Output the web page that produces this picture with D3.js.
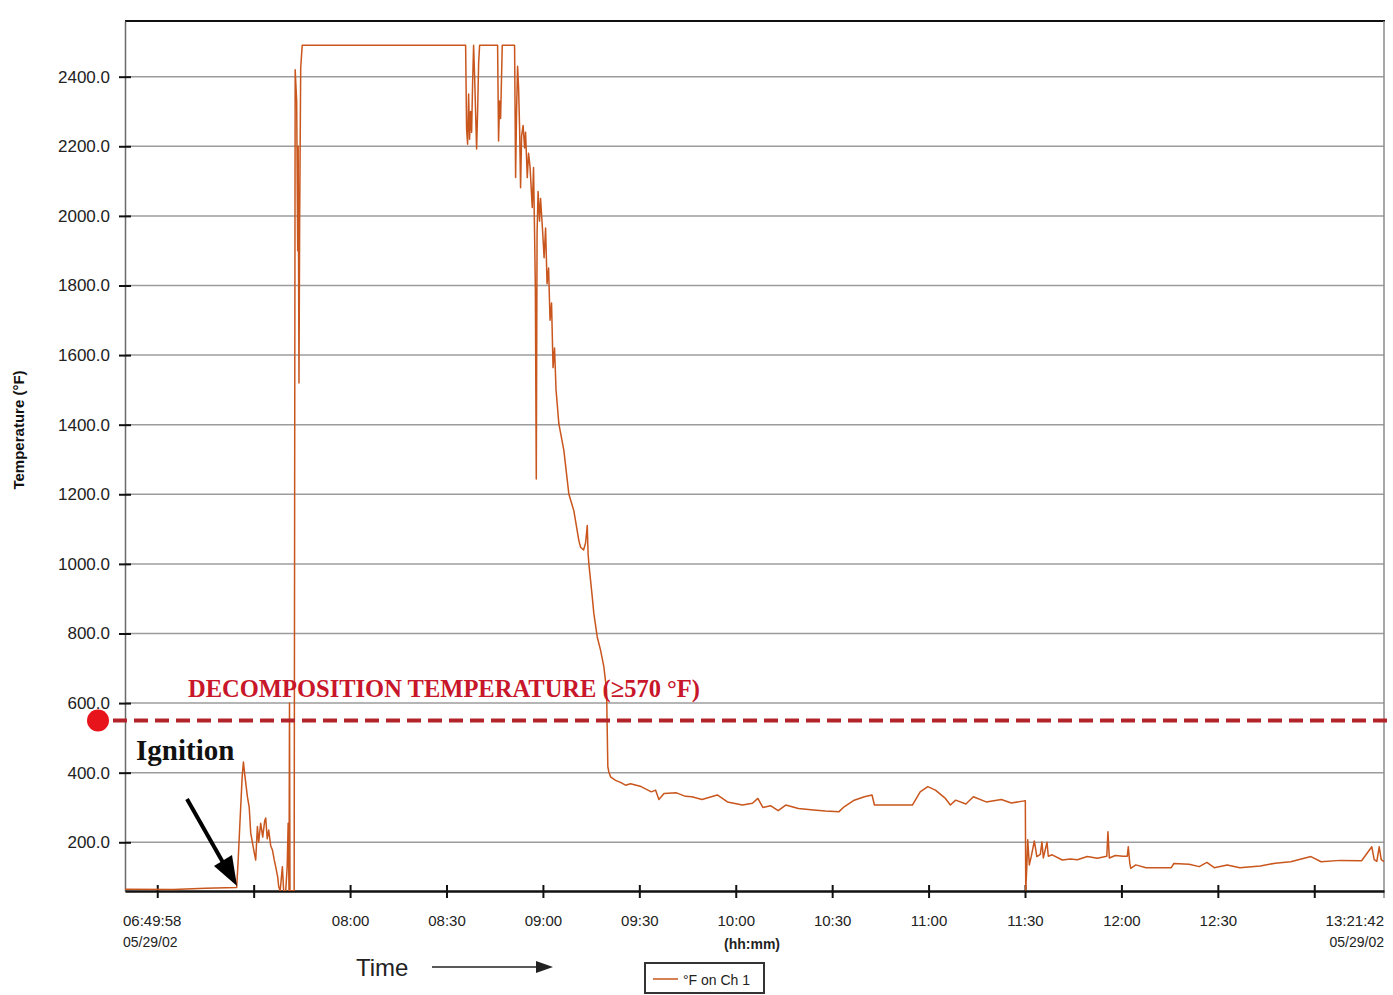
<!DOCTYPE html>
<html>
<head>
<meta charset="utf-8">
<script src="https://cdn.jsdelivr.net/npm/d3@7"></script>
<style>
body { margin: 0; background: #fff; }
text { font-family: "Liberation Sans", Arial, sans-serif; }
</style>
</head>
<body>
<div id="chart"></div>
<script>
// DATA (05/29/02)
const day = "2002-05-29";
const startTime = "06:49:58";
const endTime = "13:21:42";

const times = [
  "06:49:58","07:05:00","07:15:00","07:24:43","07:25:11","07:25:39","07:26:26","07:26:49","07:27:13","07:28:03",
  "07:28:37","07:29:05","07:30:01","07:30:38","07:31:10","07:31:34","07:32:11","07:32:49","07:33:26","07:33:45",
  "07:34:13","07:34:41","07:35:18","07:35:50","07:36:23","07:36:51","07:37:29","07:37:47","07:38:15","07:38:56",
  "07:39:20","07:39:58","07:40:26","07:40:44","07:41:00","07:41:09","07:41:18","07:42:36","07:42:55","07:43:23",
  "07:43:42","07:43:51","07:44:06","07:44:19","07:44:38","07:45:06",
  "08:35:57","08:36:15","08:36:34","08:36:53","08:37:11","08:37:30","08:37:49","08:38:07","08:38:26","08:38:45",
  "08:39:22","08:39:41","08:40:00","08:40:18","08:45:54","08:46:12","08:46:31","08:46:50","08:47:21","08:51:11",
  "08:51:30","08:51:48","08:52:07","08:52:26","08:52:45","08:53:03","08:53:22","08:53:50","08:54:18","08:54:36",
  "08:55:08","08:55:32","08:56:00","08:56:41","08:57:05","08:57:24","08:57:39","08:57:56","08:58:11","08:58:30",
  "08:58:57","08:59:16","08:59:54","09:00:22","09:00:50","09:01:17","09:01:46","09:02:13","09:02:41","09:03:09",
  "09:03:37","09:04:05","09:04:58","09:06:31","09:08:04","09:09:37","09:11:11","09:11:43","09:12:39","09:13:16",
  "09:13:48","09:14:03","09:14:18","09:15:21","09:15:51","09:16:54","09:17:56","09:18:58","09:19:48","09:20:12",
  "09:20:31","09:21:03","09:22:36","09:24:09","09:25:42","09:27:16","09:30:33","09:33:44","09:35:02","09:36:05",
  "09:37:41","09:41:34","09:44:22","09:46:21","09:49:30","09:52:08","09:54:15","09:57:25","10:02:05","10:05:12",
  "10:06:53","10:08:26","10:10:48","10:13:12","10:15:33","10:19:30","10:24:10","10:27:54","10:32:08","10:33:43",
  "10:36:52","10:40:02","10:42:24","10:43:09","10:49:29","10:54:58","10:57:23","10:59:45","11:02:07","11:05:14",
  "11:06:47","11:08:26","11:11:36","11:13:56","11:17:55","11:22:39","11:25:45","11:29:46","11:30:06","11:30:14",
  "11:30:34","11:30:51","11:31:21","11:31:58","11:32:54","11:33:41","11:34:46","11:35:16","11:35:42","11:36:51",
  "11:37:15","11:38:26","11:41:37","11:44:06","11:46:17","11:49:23","11:52:30","11:55:27","11:55:48","11:56:14",
  "11:58:06","12:00:31","12:01:50","12:02:08","12:02:36","12:02:55","12:04:28","12:07:39","12:15:31","12:16:19",
  "12:21:03","12:24:13","12:26:35","12:28:53","12:32:56","12:36:51","12:43:12","12:47:52","12:52:39","12:58:58",
  "13:02:07","13:08:05","13:14:44","13:17:54","13:18:39","13:19:28","13:20:13","13:20:50","13:21:42"
];
const temps = [
  65,64,68,70,150,241,390,431,395,331,
  300,227,178,149,245,200,255,215,262,270,
  210,235,190,178,150,130,100,73,60,130,
  60,60,130,255,60,600,60,60,2420,2330,
  1900,2200,1520,2000,2425,2490,
  2490,2250,2206,2350,2220,2300,2240,2380,2490,2400,
  2192,2300,2440,2490,2490,2215,2330,2280,2490,2490,
  2110,2300,2430,2368,2250,2081,2230,2260,2195,2240,
  2110,2180,2140,2024,2139,1950,1790,1244,1950,2070,
  1985,2050,1957,1880,1965,1805,1850,1700,1750,1564,
  1620,1500,1402,1326,1201,1153,1067,1048,1040,1060,
  1110,1030,1000,905,857,790,752,704,637,417,
  402,388,378,372,364,368,360,345,350,323,
  340,342,332,331,323,330,336,316,307,312,
  326,300,305,291,307,297,293,290,288,302,
  321,331,336,307,307,307,345,360,350,326,
  307,321,310,331,316,323,313,319,319,63,
  130,207,135,160,204,159,165,201,155,200,
  160,164,149,152,150,159,154,160,230,155,
  162,160,160,187,140,125,135,127,127,139,
  137,130,142,127,135,127,132,140,144,159,
  144,148,147,187,150,145,187,150,144
];

const yTicks = [200, 400, 600, 800, 1000, 1200, 1400, 1600, 1800, 2000, 2200, 2400];
const yMin = 60, yMax = 2560;
const xTicks = ["07:00","07:30","08:00","08:30","09:00","09:30","10:00","10:30","11:00","11:30","12:00","12:30","13:00"];
const xLabels = ["08:00","08:30","09:00","09:30","10:00","10:30","11:00","11:30","12:00","12:30"];
const decompValue = 550;
const decompLabel = "DECOMPOSITION TEMPERATURE (\u2265570 \u00B0F)";

// LAYOUT
const W = 1393, H = 995;
const plotLeft = 125, plotRight = 1384, plotTop = 21, plotBottom = 891;
const serif = "'Liberation Serif', 'Times New Roman', serif";

const parse = d3.timeParse("%Y-%m-%d %H:%M:%S");
const parseHM = d3.timeParse("%Y-%m-%d %H:%M");
const data = times.map((t, i) => ({ t: parse(day + " " + t), v: temps[i] }));

const xScale = d3.scaleTime()
  .domain([parse(day + " " + startTime), parse(day + " " + endTime)])
  .range([plotLeft, plotRight]);
const yScale = d3.scaleLinear().domain([yMin, yMax]).range([plotBottom, plotTop]);

const svg = d3.select("#chart").append("svg")
  .attr("width", W).attr("height", H);

// GRID
svg.append("g").selectAll("line").data(yTicks).join("line")
  .attr("x1", plotLeft).attr("x2", plotRight)
  .attr("y1", d => yScale(d)).attr("y2", d => yScale(d))
  .attr("stroke", "#9c9c9c").attr("stroke-width", 1.5);

// frame
svg.append("line").attr("x1", plotLeft).attr("x2", plotRight + 1).attr("y1", plotTop).attr("y2", plotTop)
  .attr("stroke", "#111").attr("stroke-width", 2);
svg.append("line").attr("x1", plotRight).attr("x2", plotRight).attr("y1", plotTop).attr("y2", plotBottom + 7)
  .attr("stroke", "#8a8a8a").attr("stroke-width", 1.5);

// Y AXIS
const yAxis = d3.axisLeft(yScale).tickValues(yTicks).tickFormat(d3.format(".1f")).tickSize(0);
const yAxisGroup = svg.append("g").attr("transform", `translate(${plotLeft},0)`).call(yAxis);
yAxisGroup.select(".domain").attr("stroke", "#6a6a6a").attr("stroke-width", 1.5);
yAxisGroup.selectAll(".tick line").attr("x1", -6).attr("x2", 6).attr("stroke", "#111").attr("stroke-width", 2);
yAxisGroup.selectAll(".tick text")
  .attr("x", -15).attr("font-size", 17).attr("fill", "#222");

svg.append("text")
  .attr("transform", "translate(24,430) rotate(-90)")
  .attr("text-anchor", "middle")
  .attr("font-size", 15).attr("font-weight", "bold").attr("fill", "#111")
  .text("Temperature (\u00B0F)");

// X AXIS
const xAxis = d3.axisBottom(xScale)
  .tickValues(xTicks.map(t => parseHM(day + " " + t)))
  .tickFormat(d => {
    const s = d3.timeFormat("%H:%M")(d);
    return xLabels.includes(s) ? s : "";
  })
  .tickSize(0);
const xAxisGroup = svg.append("g").attr("transform", `translate(0,${plotBottom})`).call(xAxis);
xAxisGroup.select(".domain").attr("stroke", "#111").attr("stroke-width", 2.5);
xAxisGroup.selectAll(".tick line").attr("y1", -6).attr("y2", 7).attr("stroke", "#111").attr("stroke-width", 2);
xAxisGroup.selectAll(".tick text")
  .attr("y", 24).attr("font-size", 15).attr("fill", "#222");

// start / end labels
const endLabels = [
  { x: plotLeft - 2, anchor: "start", lines: [startTime, "05/29/02"] },
  { x: plotRight, anchor: "end", lines: [endTime, "05/29/02"] }
];
endLabels.forEach(l => {
  l.lines.forEach((s, i) => {
    svg.append("text").attr("x", l.x).attr("y", 926 + i * 21)
      .attr("text-anchor", l.anchor).attr("font-size", i ? 14 : 15).attr("fill", "#222")
      .text(s);
  });
});
svg.append("text").attr("x", 752).attr("y", 949).attr("text-anchor", "middle")
  .attr("font-size", 14).attr("font-weight", "bold").attr("fill", "#222").text("(hh:mm)");

// SERIES
svg.append("clipPath").attr("id", "plot")
  .append("rect").attr("x", plotLeft).attr("y", plotTop).attr("width", plotRight - plotLeft).attr("height", plotBottom - plotTop);

const line = d3.line().x(d => xScale(d.t)).y(d => yScale(d.v));
svg.append("path").datum(data)
  .attr("clip-path", "url(#plot)")
  .attr("d", line)
  .attr("fill", "none")
  .attr("stroke", "#c9561d")
  .attr("stroke-width", 1.5)
  .attr("stroke-linejoin", "round");

// DECOMPOSITION LINE
const yd = yScale(decompValue);
svg.append("line").attr("x1", 92).attr("x2", W).attr("y1", yd).attr("y2", yd)
  .attr("stroke", "#b3242a").attr("stroke-width", 4).attr("stroke-dasharray", "14,7");
svg.append("circle").attr("cx", 98).attr("cy", yd).attr("r", 11).attr("fill", "#e8141b");
svg.append("text").attr("x", 188).attr("y", 697)
  .style("font-family", serif)
  .attr("font-weight", "bold").attr("font-size", 25).attr("fill", "#c8162a")
  .attr("textLength", 512).attr("lengthAdjust", "spacingAndGlyphs")
  .text(decompLabel);

// IGNITION
svg.append("text").attr("x", 136).attr("y", 760)
  .style("font-family", serif)
  .attr("font-weight", "bold").attr("font-size", 29).attr("fill", "#111")
  .text("Ignition");
svg.append("line").attr("x1", 187).attr("y1", 799).attr("x2", 225).attr("y2", 866)
  .attr("stroke", "#000").attr("stroke-width", 4);
svg.append("polygon").attr("points", "237,886 214,866 232,855").attr("fill", "#000");

// TIME ARROW
svg.append("text").attr("x", 356).attr("y", 976)
  .attr("font-size", 24).attr("fill", "#222").text("Time");
svg.append("line").attr("x1", 432).attr("y1", 967).attr("x2", 540).attr("y2", 967)
  .attr("stroke", "#222").attr("stroke-width", 1.5);
svg.append("polygon").attr("points", "553,967 536,961 536,973").attr("fill", "#222");

// LEGEND
svg.append("rect").attr("x", 645).attr("y", 963).attr("width", 119).attr("height", 30)
  .attr("fill", "#fff").attr("stroke", "#333").attr("stroke-width", 2);
svg.append("line").attr("x1", 653).attr("x2", 678).attr("y1", 979).attr("y2", 979)
  .attr("stroke", "#c9561d").attr("stroke-width", 1.5);
svg.append("text").attr("x", 683).attr("y", 985).attr("font-size", 14).attr("fill", "#222")
  .text("\u00B0F on Ch 1");
</script>
</body>
</html>
